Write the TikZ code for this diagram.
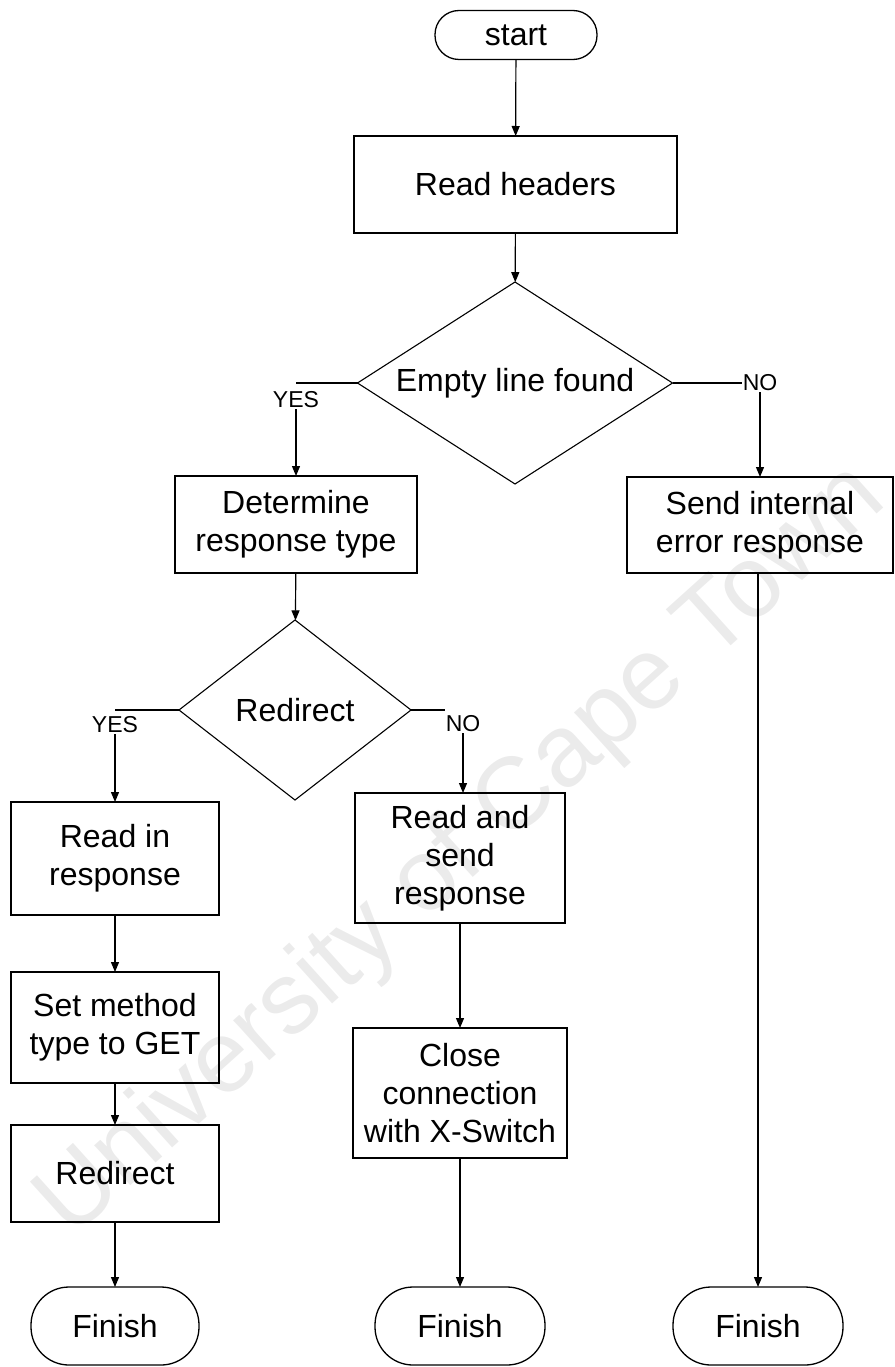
\documentclass[tikz,border=0pt]{standalone}
\usepackage{fontspec}
\setmainfont{Liberation Sans}
\usetikzlibrary{shapes.geometric,arrows.meta}
\begin{document}
\begin{tikzpicture}[x=1pt,y=-1pt,
  every node/.style={inner sep=0pt, outer sep=0pt},
  txt/.style={font=\fontsize{32}{38}\selectfont, align=center},
  lbl/.style={font=\fontsize{23}{26}\selectfont, inner sep=1pt},
  procbox/.style={txt, draw, line width=1.4pt, rectangle},
  term/.style={txt, draw, line width=1.3pt, rectangle},
  decision/.style={txt, draw, line width=1.1pt, diamond},
  flow/.style={line width=1.2pt, -{Triangle[length=10pt,width=8pt]}},
  plain/.style={line width=1.2pt}
]
\useasboundingbox (0,0) rectangle (894,1367);

% watermark behind the chart
\node[rotate=42, text=black!8, font=\fontsize{102}{102}\selectfont] (wm) at (462,852) {University of Cape Town};

% terminals
\node[term, rounded corners=24pt, minimum width=162pt, minimum height=49pt] (start) at (516,35) {start};
\node[term, rounded corners=38pt, minimum width=168pt, minimum height=78pt] (fin1) at (115,1326) {Finish};
\node[term, rounded corners=38pt, minimum width=170pt, minimum height=78pt] (fin2) at (460,1326) {Finish};
\node[term, rounded corners=38pt, minimum width=170pt, minimum height=78pt] (fin3) at (758,1326) {Finish};

% process boxes
\node[procbox, minimum width=323pt, minimum height=97pt] (headers) at (515.5,184.5) {Read headers};
\node[procbox, minimum width=242pt, minimum height=97pt] (determine) at (296,524.5) {Determine\\response type};
\node[procbox, minimum width=266pt, minimum height=96pt] (send) at (760,525) {Send internal\\error response};
\node[procbox, minimum width=208pt, minimum height=113pt] (readin) at (115,858.5) {Read in\\response};
\node[procbox, minimum width=208pt, minimum height=111pt] (setmethod) at (115,1027.5) {Set method\\type to GET};
\node[procbox, minimum width=208pt, minimum height=97pt] (redirbox) at (115,1173.5) {Redirect};
\node[procbox, minimum width=210pt, minimum height=130pt] (readsend) at (460,858) {Read and\\send\\response};
\node[procbox, minimum width=214pt, minimum height=130pt] (close) at (460,1093) {Close\\connection\\with X-Switch};

% decisions
\node[decision, shape aspect=1.56, minimum width=315pt, minimum height=202pt] (empty) at (515,383) {Empty line found};
\node[decision, shape aspect=1.29, minimum width=232pt, minimum height=180pt] (redir) at (295,710) {Redirect};

% branch labels
\node[lbl] (yes1) at (296,400) {YES};
\node[lbl] (no1) at (760,383) {NO};
\node[lbl] (yes2) at (115,725) {YES};
\node[lbl] (no2) at (463,724) {NO};

% connectors
\draw[flow] (start) -- (headers);
\draw[flow] (headers) -- (empty);
\draw[plain] (empty.west) -- (empty.west -| yes1);
\draw[flow] (yes1.south) -- (determine.north -| yes1);
\draw[plain] (empty.east) -- (no1.west);
\draw[flow] (no1.south) -- (send.north);
\draw[flow] (determine) -- (redir);
\draw[plain] (redir.west) -- (redir.west -| yes2);
\draw[flow] (yes2.south) -- (readin.north);
\draw[plain] (redir.east) -- (redir.east -| no2.west);
\draw[flow] (no2.south) -- (readsend.north -| no2);
\draw[flow] (readin) -- (setmethod);
\draw[flow] (setmethod) -- (redirbox);
\draw[flow] (redirbox) -- (fin1);
\draw[flow] (readsend) -- (close);
\draw[flow] (close) -- (fin2);
\draw[flow] (send.south -| fin3) -- (fin3.north);
\end{tikzpicture}
\end{document}
